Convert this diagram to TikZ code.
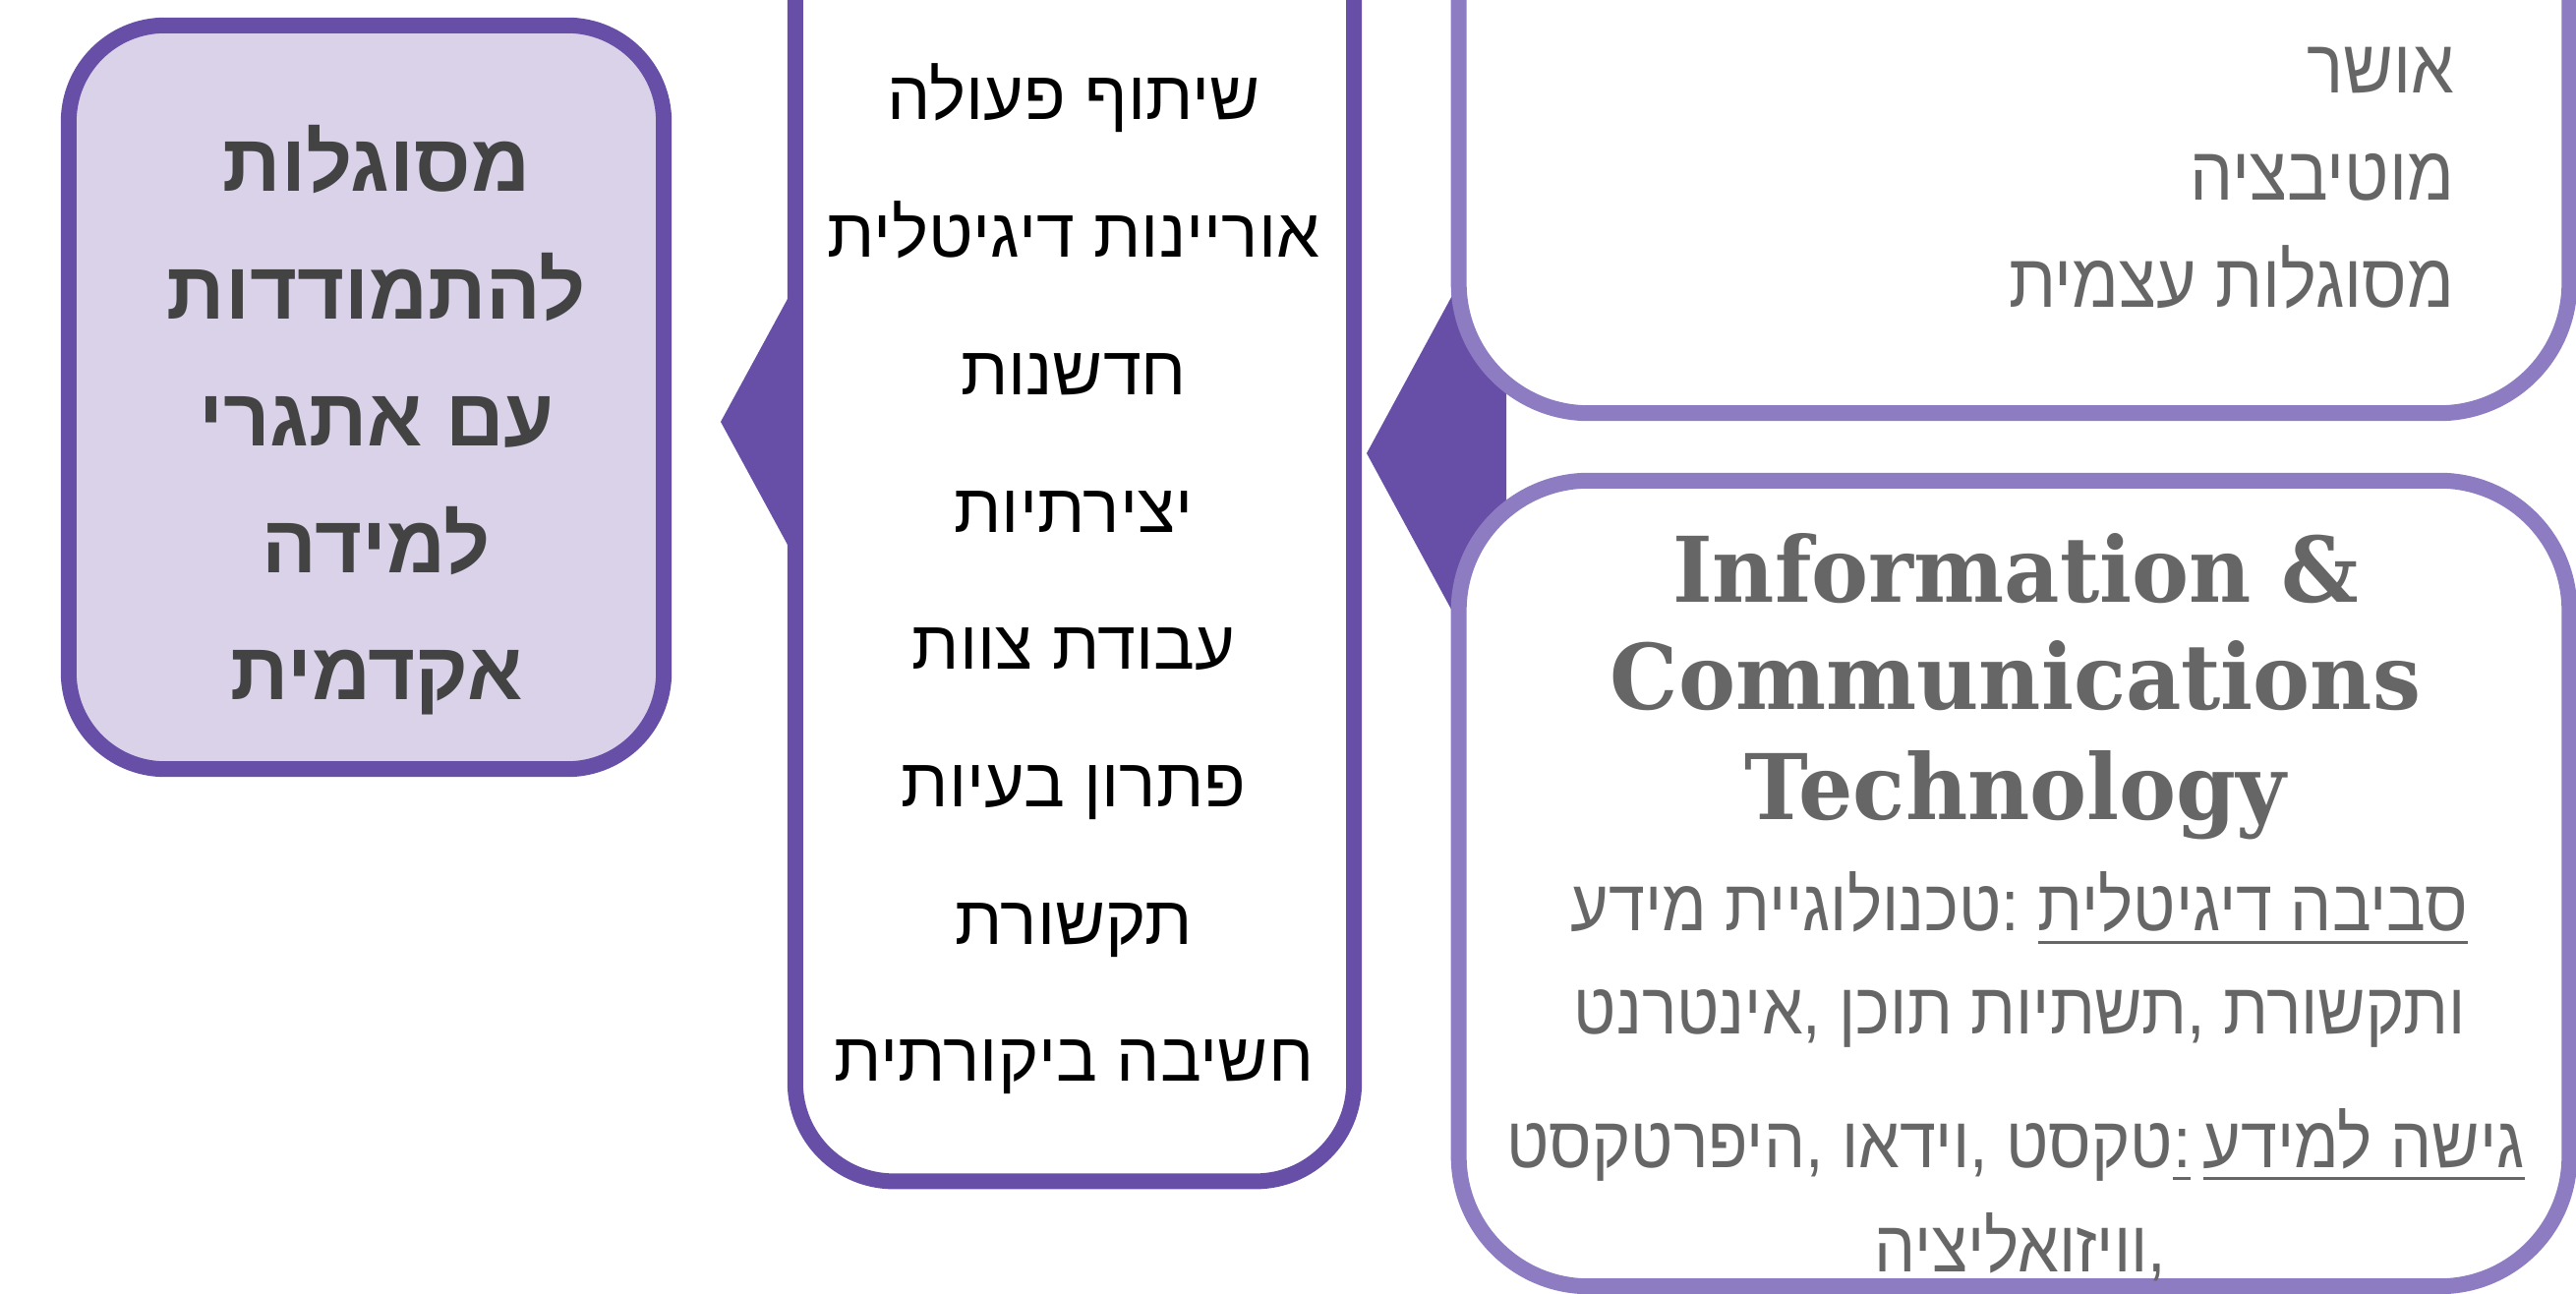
\documentclass[tikz,border=0pt]{standalone}
\usepackage{fontspec}
\usepackage{tikz}
\usetikzlibrary{calc}
\TeXXeTstate=1
\newfontfamily\hebfont[Script=Hebrew]{Liberation Sans}
\newfontfamily\hebnarrow[Script=Hebrew,FakeStretch=0.9]{Liberation Sans}
\newfontfamily\titlefont[FakeStretch=0.945]{DejaVu Serif}

\definecolor{darkviolet}{HTML}{674EA7}
\definecolor{lightviolet}{HTML}{8E7CC3}
\definecolor{lavender}{HTML}{D9D2E9}
\definecolor{txtgray}{HTML}{666666}
\definecolor{darkgray}{HTML}{434343}

\newcommand\hb[1]{\hbox{#1}}
% underline a bit of hebrew: rule 2.8pt under the baseline
\newcommand\ulh[1]{\setbox0\hbox{\beginR#1\endR}%
  \vtop{\copy0\kern-\dp0\kern2.8pt\hrule height 0.85pt}}

\tikzset{
  box/.style={draw=darkviolet, line width=4.55pt, inner sep=0pt},
  lbox/.style={box, fill=lavender, rounded corners=0.98cm},
  mbox/.style={box, fill=white, rounded corners=1cm},
  rbox/.style={box, draw=lightviolet, fill=white, rounded corners=1.32cm},
  lefttxt/.style={anchor=base, inner sep=0pt, text=darkgray,
    font=\hebfont\bfseries\fontsize{23.5}{28}\selectfont},
  skill/.style={anchor=base, inner sep=0pt,
    font=\hebfont\fontsize{19.9}{24}\selectfont},
  trait/.style={anchor=base east, inner sep=0pt, text=txtgray,
    font=\hebnarrow\fontsize{22}{26}\selectfont},
  ict/.style={anchor=base, inner sep=0pt, text=txtgray,
    font=\titlefont\bfseries\fontsize{26.2}{30}\selectfont},
  ictline/.style={anchor=base, inner sep=0pt, text=txtgray,
    font=\hebnarrow\fontsize{21}{25}\selectfont},
  arrowhead/.style={fill=darkviolet}
}

\begin{document}
\begin{tikzpicture}[x=0.01cm, y=-0.01cm]
\useasboundingbox (0,0) rectangle (2620,1316);
\clip (0,0) rectangle (2620,1316);

% arrow heads, behind the boxes
\coordinate (ltip) at (733,429);
\coordinate (rtip) at (1390,461);
\fill[arrowhead] (ltip) -- ++(124,-228) -- ++(0,456) -- cycle;
\fill[arrowhead] (rtip) -- ++(142,-262) -- ++(0,524) -- cycle;

% boxes
\node[lbox, minimum width=6.05cm, minimum height=7.56cm] (goal) at (372.5,404) {};
\node[mbox, minimum width=5.68cm, minimum height=13.51cm] (skills) at (1093,525.5) {};
\node[rbox, minimum width=11.29cm, minimum height=7.2cm] (self) at (2048.5,60) {};
\node[rbox, minimum width=11.29cm, minimum height=8.19cm] (ict) at (2048.5,898.5) {};

% left box
\foreach \w [count=\i from 0] in {מסוגלות, להתמודדות, עם אתגרי, למידה, אקדמית}
  \node[lefttxt] (goal\i) at (383,{195+129.25*\i}) {\beginR\w\endR};

% skills
\foreach \w [count=\i from 0] in {שיתוף פעולה, אוריינות דיגיטלית, חדשנות, יצירתיות,
    עבודת צוות, פתרון בעיות, תקשורת, חשיבה ביקורתית}
  \node[skill] (skill\i) at (1092,{122+139.7*\i}) {\beginR\w\endR};

% self box
\foreach \w [count=\i from 0] in {אושר, מוטיבציה, מסוגלות עצמית}
  \node[trait] (trait\i) at (2497,{95+109*\i}) {\beginR\w\endR};

% ict box
\node[ict] (ict1) at (2050,613) {Information \&};
\node[ict] (ict2) at (2050,722) {Communications};
\node[ict] (ict3) at (2050,834) {Technology};
\node[ictline] (env1) at (2054,947) {\beginR\ulh{סביבה דיגיטלית} \hb{:}טכנולוגיית מידע\endR};
\node[ictline] (env2) at (2054,1052) {\beginR ותקשורת \hb{,}תשתיות תוכן \hb{,}אינטרנט\endR};
\node[ictline] (acc1) at (2050,1187) {\beginR\ulh{גישה למידע}\,\ulh{:}טקסט \hb{,}וידאו \hb{,}היפרטקסט\endR};
\node[ictline] (acc2) at (2055,1293) {\beginR\hb{,}וויזואליציה\endR};

\end{tikzpicture}
\end{document}
